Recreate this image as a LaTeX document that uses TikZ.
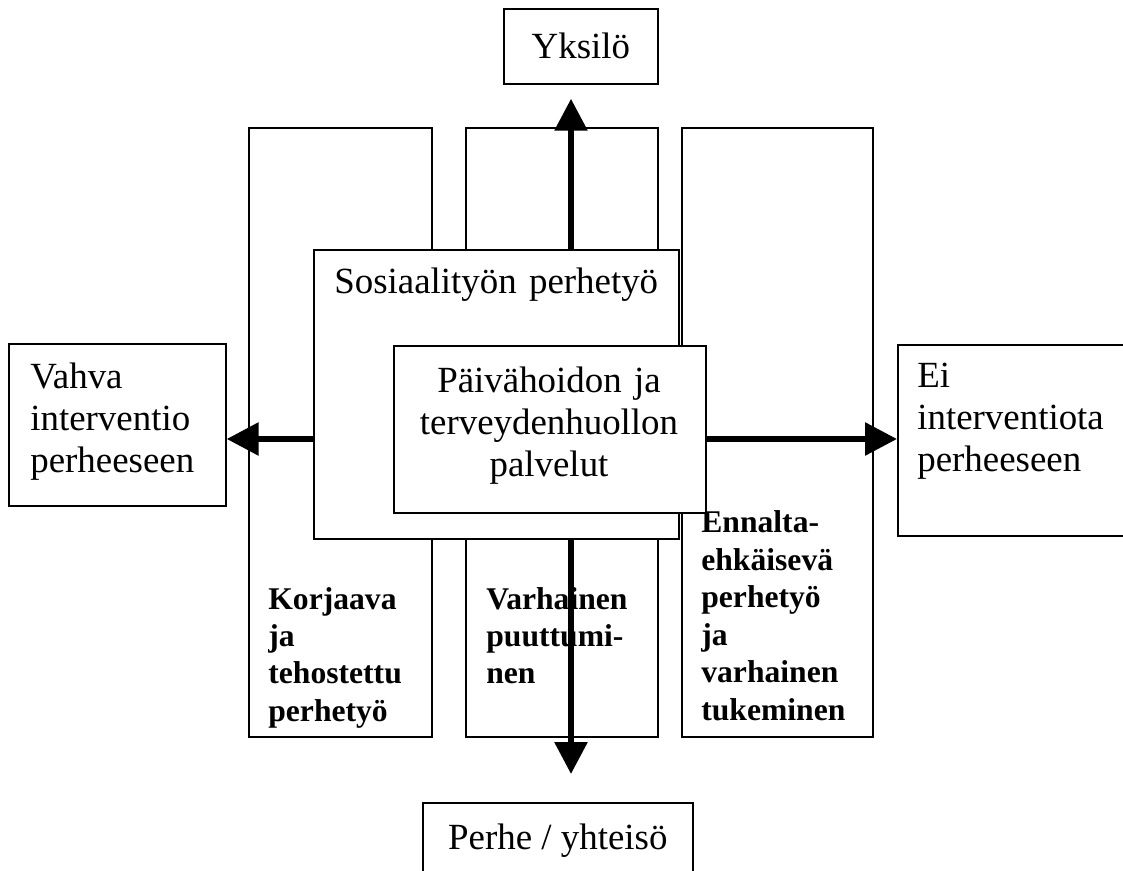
\documentclass[tikz,border=0pt]{standalone}
\usepackage{fontspec}
\setmainfont{Liberation Serif}
\usepackage{tikz}
\usetikzlibrary{positioning,arrows.meta,calc}

\tikzset{
  box/.style={draw, line width=1pt, fill=white, inner sep=0pt, anchor=north west},
  txt/.style={inner sep=0pt, anchor=base west, text width=#1, align=left,
    font=\fontsize{21pt}{23.9pt}\selectfont},
  btxt/.style={inner sep=0pt, anchor=base west, text width=#1, align=left,
    font=\fontsize{18pt}{21.3pt}\selectfont\bfseries},
  bigarrow/.style={line width=0.12cm, -{Triangle[length=0.64cm, width=0.64cm]}}
}

\begin{document}
\begin{tikzpicture}[x=0.02cm, y=-0.02cm]

  % Frame
  \useasboundingbox (0, 0) rectangle (1123, 871);
  \clip (0, 0) rectangle (1123, 871);

  % Centre of the cross
  \coordinate (mid) at (571, 439);

  % Ends
  \node[box, minimum width=3.08cm, minimum height=1.5cm, font=\fontsize{21pt}{23.9pt}\selectfont] (yksilo) at (503, 8) {Yksilö};
  \node[box, minimum width=5.4cm, minimum height=1.5cm, font=\fontsize{21pt}{23.9pt}\selectfont] (perhe) at (422, 802) {Perhe / yhteisö};
  \node[box, minimum width=4.34cm, minimum height=3.24cm] (vahva) at (8, 343) {};
  \node[txt=4.2cm] (vahvatext) at (30, 389) {Vahva\\interventio\\perheeseen};
  \node[box, minimum width=4.76cm, minimum height=3.82cm] (ei) at (897, 344) {};
  \node[txt=4.2cm] (eitext) at (917, 388) {Ei\\interventiota\\perheeseen};

  % Columns
  \node[box, minimum width=3.66cm, minimum height=12.18cm] (korjaava) at (248, 127) {};
  \node[box, minimum width=3.84cm, minimum height=12.18cm] (varhainen) at (465, 127) {};
  \node[box, minimum width=3.82cm, minimum height=12.18cm] (ennalta) at (681, 127) {};
  \node[btxt=3.2cm] (korjaavatext) at (268, 609) {Korjaava\\ja\\tehostettu\\perhetyö};
  \node[btxt=3.2cm] (varhainentext) at (486, 609) {Varhainen\\puuttumi-\\nen};
  \node[btxt=3.4cm] (ennaltatext) at (701, 533) {Ennalta-\\ehkäisevä\\perhetyö\\ja\\varhainen\\tukeminen};

  % Inner boxes
  \node[box, minimum width=7.3cm, minimum height=5.78cm] (sosiaali) at (313, 249) {};
  \node[txt=7cm] (sosiaalitext) at (334, 294) {Sosiaalityön perhetyö};
  \node[box, minimum width=6.24cm, minimum height=3.34cm] (paiva) at (393, 345) {};
  \node[txt=5.6cm, anchor=base, align=center] (paivatext) at (549, 393) {Päivähoidon ja\\terveydenhuollon\\palvelut};

  % Arrows
  \draw[bigarrow, shorten >=0.28cm] (mid |- sosiaali.north) -- (mid |- yksilo.south);
  \draw[bigarrow, shorten >=0.56cm] (mid |- sosiaali.south) -- (mid |- perhe.north);
  \draw[bigarrow] (mid -| sosiaali.west) -- (mid -| vahva.east);
  \draw[bigarrow] (mid -| paiva.east) -- (mid -| ei.west);

\end{tikzpicture}
\end{document}
